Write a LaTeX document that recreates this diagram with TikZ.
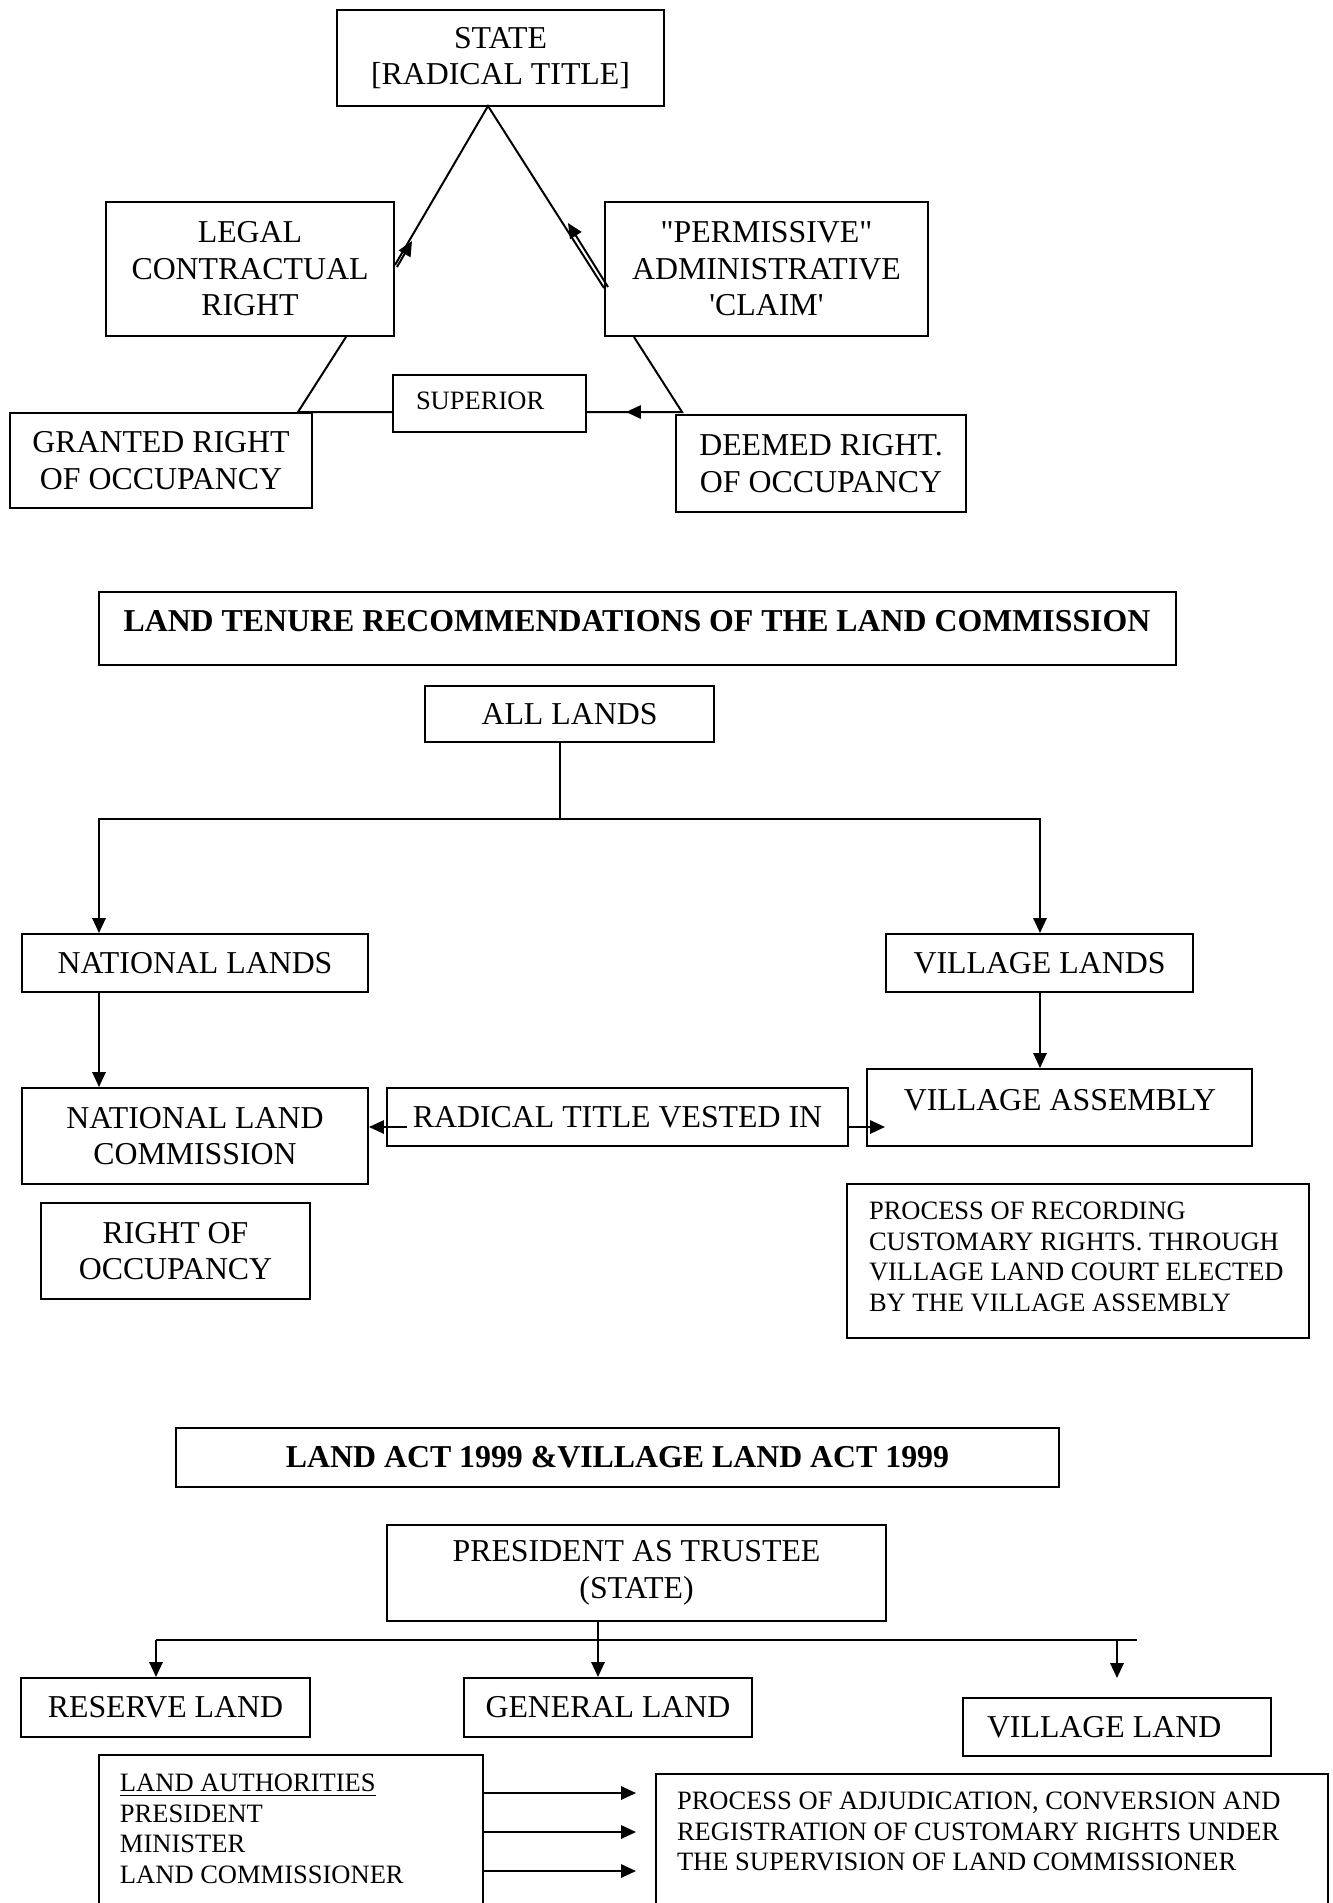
\documentclass[tikz,border=0pt]{standalone}
\usepackage{fontspec}
\setmainfont{Liberation Serif}
\usetikzlibrary{arrows.meta}

\begin{document}
\begin{tikzpicture}[x=0.377pt,y=-0.377pt,line width=0.75pt,
  box/.style={draw,inner sep=0pt,align=center,font=\fontsize{12}{13.8}\selectfont},
  wh/.style 2 args={minimum width=#1*0.377pt,minimum height=#2*0.377pt},
  bigtext/.style={inner sep=0pt,font=\fontsize{12}{13.8}\selectfont},
  smalltext/.style={inner sep=0pt,align=left,font=\fontsize{10}{11.5}\selectfont},
  arr/.style={-{Triangle[length=5.6pt,width=5pt]}}]
\useasboundingbox (0,0) rectangle (1333,1903);
\clip (0,0) rectangle (1333,1903);

% rights triangle
\node[box,wh={327}{96}] (state) at (500.5,58) {STATE\\{}[RADICAL TITLE]};
\node[box,wh={288}{134}] (legal) at (250,269) {LEGAL\\CONTRACTUAL\\RIGHT};
\node[box,wh={323}{134}] (claim) at (766.5,269) {\textquotedbl PERMISSIVE\textquotedbl\\ADMINISTRATIVE\\\textquotesingle CLAIM\textquotesingle};
\node[box,wh={193}{57}] (sup) at (489.5,403.5) {};
\node[smalltext,anchor=west] at (415,401) {SUPERIOR};
\node[box,wh={302}{95}] (granted) at (161,460.5) {GRANTED RIGHT\\OF OCCUPANCY};
\node[box,wh={290}{97}] (deemed) at (821,463.5) {DEEMED RIGHT.\\OF OCCUPANCY};
\coordinate (apex) at (488,106);
\coordinate (meet) at (682,412);
\draw (legal.east |- 0,265) -- (apex) -- (claim.west |- 0,288);
\draw[arr] (397,267) -- (412,241);
\draw[arr] (608,287) -- (568,223);
\draw (346,0 |- legal.south) -- (298,0 |- granted.north) -- (sup.west |- granted.north);
\draw (634,0 |- claim.south) -- (meet) -- (sup.east |- meet);
\draw[arr] (meet) -- (626,412);

% land commission
\node[box,wh={1077}{73}] (title1) at (637.5,628.5) {};
\node[bigtext,font=\fontsize{12}{13.8}\selectfont\bfseries] at (637,621) {LAND TENURE RECOMMENDATIONS OF THE LAND COMMISSION};
\node[box,wh={289}{56}] (all) at (569.5,714) {ALL LANDS};
\node[box,wh={346}{58}] (nl) at (195,963) {NATIONAL LANDS};
\node[box,wh={307}{58}] (vl) at (1039.5,963) {VILLAGE LANDS};
\node[box,wh={346}{96}] (nlc) at (195,1136) {NATIONAL LAND\\COMMISSION};
\node[box,wh={461}{58}] (rad) at (617.5,1117) {RADICAL TITLE VESTED IN};
\node[box,wh={385}{77}] (va) at (1059.5,1107.5) {};
\node[bigtext] at (1060,1100) {VILLAGE ASSEMBLY};
\node[box,wh={269}{96}] (roo) at (175.5,1251) {RIGHT OF\\OCCUPANCY};
\node[box,wh={462}{154}] (rec) at (1078,1261) {};
\node[smalltext,anchor=north west] at (868,1201) {PROCESS OF RECORDING\\CUSTOMARY RIGHTS. THROUGH\\VILLAGE LAND COURT ELECTED\\BY THE VILLAGE ASSEMBLY};
\coordinate (split) at (560,819);
\draw (560,0 |- all.south) -- (split);
\draw[arr] (split) -| (99,0 |- nl.north);
\draw[arr] (split) -| (1040,0 |- vl.north);
\draw[arr] (99,0 |- nl.south) -- (99,0 |- nlc.north);
\draw[arr] (1040,0 |- vl.south) -- (1040,0 |- va.north);
\draw[arr] (407,1127) -- (nlc.east |- 0,1127);
\draw[arr] (rad.east |- 0,1127) -- (885,1127);

% land acts
\node[box,wh={883}{59}] (title2) at (617.5,1457.5) {\bfseries LAND ACT 1999 \&VILLAGE LAND ACT 1999};
\node[box,wh={499}{96}] (pres) at (636.5,1573) {PRESIDENT AS TRUSTEE\\(STATE)};
\node[box,wh={289}{59}] (reserve) at (165.5,1707.5) {RESERVE LAND};
\node[box,wh={288}{59}] (general) at (608,1707.5) {GENERAL LAND};
\node[box,wh={308}{58}] (vland) at (1117,1727) {};
\node[bigtext,anchor=west] at (986,1727) {VILLAGE LAND};
\node[box,wh={384}{185}] (auth) at (291,1847.5) {};
\node[smalltext,anchor=north west] at (119,1773) {\underline{LAND AUTHORITIES}\\PRESIDENT\\MINISTER\\LAND COMMISSIONER};
\node[box,wh={672}{166}] (adj) at (992,1857) {};
\node[smalltext,anchor=north west] at (676,1791) {PROCESS OF ADJUDICATION, CONVERSION AND\\REGISTRATION OF CUSTOMARY RIGHTS UNDER\\THE SUPERVISION OF LAND COMMISSIONER};
\coordinate (fork) at (598,1640);
\draw (fork |- pres.south) -- (fork);
\draw (156,1640) -- (1137,1640);
\draw[arr] (156,1640) -- (156,0 |- reserve.north);
\draw[arr] (fork) -- (fork |- general.north);
\draw[arr] (1117,1640) -- (1117,1678);
\foreach \y in {1793,1832,1871}
  \draw[arr] (auth.east |- 0,\y) -- (636,\y);
\end{tikzpicture}
\end{document}
